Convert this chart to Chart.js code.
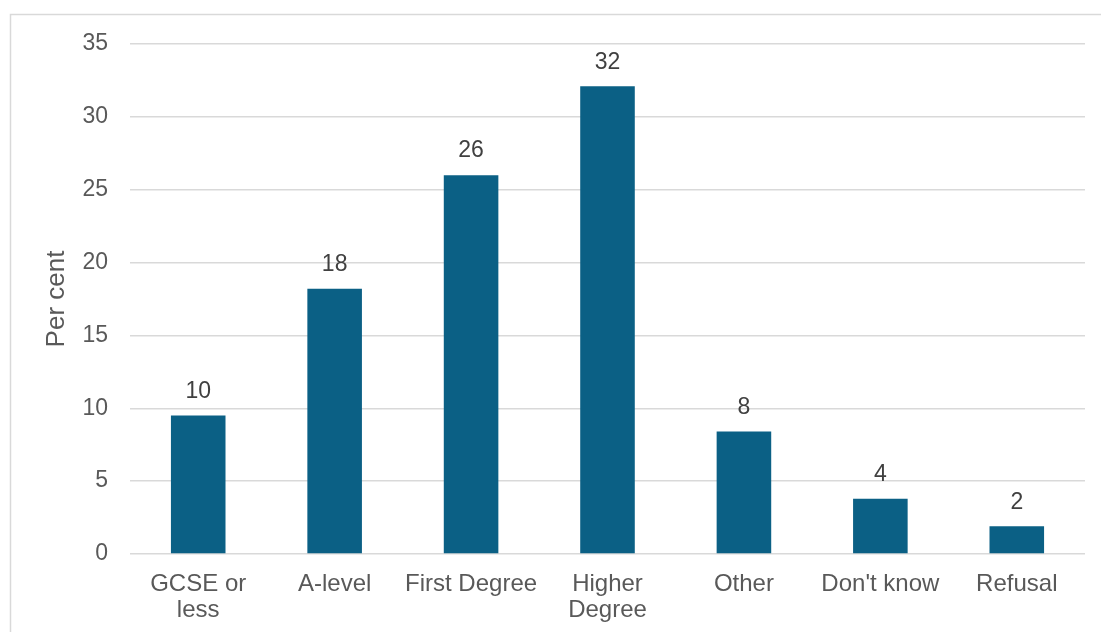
<!DOCTYPE html>
<html><head><meta charset="utf-8">
<style>html,body{margin:0;padding:0;background:#fff;overflow:hidden}#wrap{width:1101px;height:632px;position:relative}</style>
<script src="https://cdn.jsdelivr.net/npm/chart.js@4"></script>
</head><body><div id="wrap"><canvas id="c" width="1101" height="632"></canvas></div>
<script>
const categories = [["GCSE or","less"],"A-level","First Degree",["Higher","Degree"],"Other","Don't know","Refusal"];
const values = [9.5,18.2,26.0,32.1,8.4,3.8,1.9];
const valueLabels = ["10","18","26","32","8","4","2"];
const yTicks = [0,5,10,15,20,25,30,35];
const yTitle = "Per cent";

const FONT = "Arial, 'Liberation Sans', Helvetica, sans-serif";

const frame = {
  id: 'frame',
  beforeDraw(chart) {
    const ctx = chart.ctx;
    ctx.save();
    ctx.fillStyle = '#fff';
    ctx.fillRect(0, 0, chart.width, chart.height);
    ctx.strokeStyle = '#d9d9d9';
    ctx.lineWidth = 1.5;
    ctx.strokeRect(10.5, 14.5, 1200, 700);
    ctx.restore();
  }
};
const dataLabels = {
  id: 'dataLabels',
  afterDatasetsDraw(chart) {
    const ctx = chart.ctx;
    const meta = chart.getDatasetMeta(0);
    ctx.save();
    ctx.font = "23px " + FONT;
    ctx.fillStyle = '#404040';
    ctx.textAlign = 'center';
    ctx.textBaseline = 'middle';
    meta.data.forEach((bar, i) => {
      ctx.fillText(valueLabels[i], bar.x, bar.y - 24);
    });
    ctx.restore();
  }
};

new Chart(document.getElementById('c'), {
  type: 'bar',
  data: {
    labels: categories,
    datasets: [{
      data: values,
      backgroundColor: '#0B6085',
      borderWidth: 0,
      barPercentage: 0.4,
      categoryPercentage: 1.0
    }]
  },
  options: {
    responsive: false,
    animation: false,
    devicePixelRatio: 1,
    layout: { padding: { left: 0, top: 44, right: 16, bottom: 0 } },
    plugins: { legend: { display: false }, tooltip: { enabled: false } },
    scales: {
      x: {
        grid: { display: false, drawTicks: false },
        border: { display: false },
        ticks: { font: { family: FONT, size: 24, lineHeight: 1.07 }, color: '#595959', padding: 18, maxRotation: 0, autoSkip: false },
        afterFit(scale) { scale.height = 78; }
      },
      y: {
        min: 0, max: 35,
        grid: { color: '#d9d9d9', lineWidth: 1.5, drawTicks: false },
        border: { display: false },
        ticks: { font: { family: FONT, size: 23 }, color: '#595959', padding: 22 },
        afterBuildTicks(scale) { scale.ticks = yTicks.map(v => ({ value: v })); },
        title: { display: true, text: yTitle, font: { family: FONT, size: 26 }, color: '#595959', padding: { top: 41, bottom: 0 } },
        afterFit(scale) { scale.width = 130; }
      }
    }
  },
  plugins: [frame, dataLabels]
});
</script>
</body></html>
